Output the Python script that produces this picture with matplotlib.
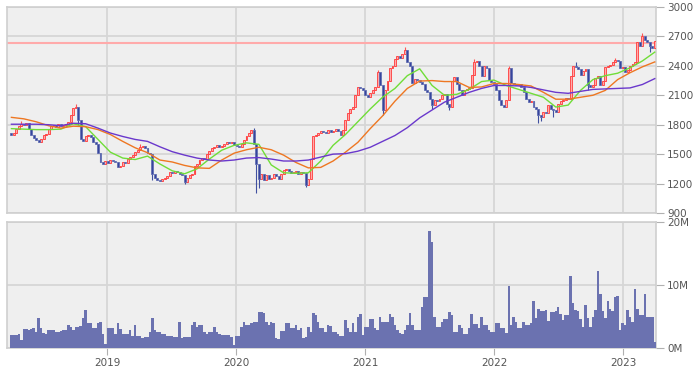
import numpy as np
import pandas as pd
import matplotlib
matplotlib.use('Agg')
import matplotlib.pyplot as plt
import matplotlib.dates as mdates

# weekly data, starting 2018-04-02
start = '2018-04-02'

closes = [
    1700, 1720, 1760, 1790, 1810, 1800, 1820, 1760, 1700, 1660,
    1640, 1620, 1650, 1700, 1710, 1760, 1790, 1800, 1780, 1810,
    1790, 1800, 1810, 1830, 1900, 1970, 1980, 1850, 1650, 1630,
    1680, 1700, 1670, 1620, 1600, 1510, 1420, 1400, 1430, 1410,
    1440, 1430, 1420, 1370, 1380, 1420, 1410, 1450, 1470, 1490,
    1520, 1540, 1570, 1580, 1560, 1510, 1500, 1300, 1260, 1240,
    1230, 1250, 1260, 1280, 1320, 1310, 1330, 1320, 1300, 1290,
    1220, 1260, 1290, 1300, 1380, 1400, 1440, 1460, 1450, 1500,
    1530, 1560, 1570, 1590, 1570, 1580, 1600, 1620, 1610, 1620,
    1590, 1580, 1570, 1600, 1640, 1680, 1720, 1750, 1600, 1400,
    1250, 1300, 1240, 1290, 1250, 1260, 1300, 1280, 1250, 1300,
    1340, 1350, 1330, 1310, 1320, 1330, 1300, 1320, 1310, 1190,
    1250, 1450, 1680, 1700, 1720, 1740, 1730, 1720, 1750, 1730,
    1740, 1760, 1740, 1700, 1750, 1850, 1920, 1960, 1980, 2100,
    2180, 2170, 2150, 2100, 2080, 2120, 2150, 2180, 2340, 2200,
    1950, 2150, 2250, 2380, 2400, 2470, 2500, 2480, 2520, 2560,
    2440, 2400, 2230, 2270, 2260, 2240, 2220, 2150, 2130, 2060,
    2000, 2050, 2040, 2060, 2100, 2110, 2010, 1980, 2250, 2290,
    2220, 2150, 2100, 2150, 2160, 2170, 2310, 2440, 2450, 2400,
    2300, 2400, 2380, 2260, 2240, 2220, 2150, 2050, 2000, 1980,
    2050, 2380, 2230, 2210, 2200, 2220, 2180, 2130, 2060, 2030,
    2040, 1980, 1960, 1900, 1880, 1930, 1920, 2000, 1960, 1950,
    1930, 2010, 2040, 2050, 2070, 2060, 2300, 2400, 2390, 2370,
    2310, 2350, 2370, 2200, 2180, 2200, 2280, 2300, 2200, 2250,
    2390, 2400, 2410, 2440, 2460, 2450, 2380, 2390, 2340, 2360,
    2400, 2420, 2440, 2640, 2600, 2700, 2660, 2640, 2600, 2580,
    2650,
]
first_open = 1720
# visible wick extremes (week index -> low / high)
wick_lows = {27: 1800, 57: 1240, 70: 1200, 99: 1100, 100: 1150, 119: 1160,
             150: 1900, 170: 1960, 177: 1950, 213: 1820, 214: 1840, 219: 1880,
             233: 2150, 258: 2540}
wick_highs = {4: 1840, 26: 2010, 52: 1600, 98: 1770, 148: 2360, 159: 2590,
              160: 2470, 187: 2470, 201: 2400, 228: 2440, 244: 2480, 255: 2740}

volumes = [  # millions
    2.0, 2.0, 2.1, 2.3, 1.2, 3.0, 3.0, 2.9, 3.0, 3.1,
    2.6, 4.7, 3.1, 2.4, 2.3, 2.9, 2.9, 2.8, 2.6, 2.5,
    2.7, 2.8, 2.9, 3.7, 3.3, 2.8, 3.4, 3.4, 3.5, 4.7,
    6.1, 3.9, 4.0, 3.1, 3.1, 4.0, 4.1, 2.3, 0.7, 3.2,
    3.2, 3.2, 2.3, 4.0, 3.0, 2.2, 2.2, 2.2, 2.9, 1.9,
    3.6, 1.9, 1.9, 1.6, 1.8, 1.8, 2.5, 4.7, 2.8, 2.6,
    2.6, 2.3, 2.3, 1.9, 1.9, 1.9, 1.7, 1.7, 4.1, 1.6,
    1.7, 1.7, 1.7, 3.6, 4.1, 3.3, 3.6, 3.6, 2.5, 2.3,
    2.5, 2.5, 3.4, 2.5, 2.2, 2.1, 2.1, 2.1, 2.0, 1.7,
    0.5, 1.9, 1.9, 3.4, 4.2, 3.6, 3.6, 3.9, 4.2, 4.2,
    5.7, 5.7, 5.5, 4.2, 3.7, 4.1, 4.0, 1.6, 1.5, 2.7,
    2.7, 4.0, 4.0, 3.1, 3.1, 3.7, 2.9, 3.1, 1.6, 1.8,
    3.4, 2.5, 5.6, 5.2, 4.1, 3.1, 3.1, 2.5, 3.7, 3.5,
    2.5, 2.5, 2.2, 1.9, 1.9, 4.4, 3.1, 2.5, 4.0, 2.5,
    4.9, 5.4, 2.0, 3.3, 3.3, 4.6, 4.6, 3.1, 2.8, 4.9,
    4.1, 4.2, 4.2, 5.4, 5.0, 3.6, 2.8, 2.4, 2.2, 2.8,
    3.6, 5.6, 3.6, 2.8, 2.8, 2.8, 6.5, 8.1, 8.1, 18.5,
    16.9, 4.9, 3.4, 3.4, 4.1, 4.6, 4.6, 5.7, 5.2, 2.5,
    2.5, 3.6, 3.1, 2.3, 2.3, 3.1, 5.4, 3.8, 3.8, 3.1,
    4.9, 3.6, 3.6, 2.8, 2.5, 2.5, 3.9, 4.0, 3.1, 3.1,
    2.4, 9.8, 3.6, 4.9, 4.1, 3.1, 3.1, 4.1, 3.7, 3.7,
    3.9, 7.4, 4.8, 6.2, 5.9, 5.9, 6.1, 4.3, 5.7, 5.7,
    5.8, 6.5, 5.4, 4.4, 5.3, 5.3, 11.4, 7.2, 6.1, 5.9,
    4.6, 3.3, 6.9, 4.8, 3.3, 4.9, 6.0, 12.2, 8.5, 5.8,
    4.8, 7.4, 6.2, 5.8, 8.1, 8.3, 2.8, 4.0, 3.6, 6.1,
    4.9, 4.2, 9.4, 6.2, 5.3, 5.3, 8.6, 4.9, 5.0, 5.0,
    1.0,
]

# moving averages, every 5 weeks
ma_weeks = list(range(0, 261, 5))
ma_short = [1760, 1755, 1750, 1750, 1755, 1810, 1780, 1650, 1520, 1460,
            1445, 1480, 1400, 1330, 1300, 1350, 1450, 1540, 1590, 1615,
            1600, 1390, 1310, 1305, 1310, 1430, 1590, 1700, 1830, 1960,
            2080, 2170, 2300, 2370, 2200, 2100, 2110, 2160, 2240, 2255,
            2200, 2160, 2120, 2080, 1980, 2000, 2150, 2260, 2300, 2325,
            2380, 2450, 2540]
ma_mid = [1875, 1860, 1830, 1790, 1765, 1785, 1780, 1750, 1700, 1630,
          1565, 1515, 1440, 1420, 1385, 1360, 1355, 1440, 1510, 1545,
          1570, 1545, 1490, 1415, 1360, 1365, 1430, 1520, 1620, 1760,
          1890, 2040, 2170, 2245, 2250, 2240, 2240, 2180, 2185, 2220,
          2220, 2210, 2195, 2130, 2060, 2060, 2080, 2100, 2150, 2260,
          2330, 2390, 2440]
ma_long = [1805, 1805, 1805, 1800, 1790, 1815, 1810, 1765, 1715, 1680,
           1650, 1630, 1575, 1525, 1490, 1460, 1440, 1430, 1440, 1460,
           1465, 1450, 1430, 1430, 1440, 1470, 1500, 1505, 1530, 1570,
           1630, 1690, 1770, 1870, 1950, 2030, 2080, 2130, 2170, 2200,
           2200, 2195, 2180, 2155, 2130, 2120, 2140, 2160, 2165, 2170,
           2175, 2210, 2270]

ref_price = 2630
price_ticks = [900, 1200, 1500, 1800, 2100, 2400, 2700, 3000]
vol_ticks = [0, 10, 20]
vol_labels = ['0M', '10M', '20M']
years = ['2019', '2020', '2021', '2022', '2023']

# ---- prepare
n = len(closes)
weeks = pd.date_range(start, periods=n, freq='7D')
left = mdates.date2num(weeks)
xc = left + 3.5
closes = np.array(closes, float)
opens = np.r_[first_open, closes[:-1]]
highs = np.maximum(opens, closes)
lows = np.minimum(opens, closes)
for k, v in wick_lows.items():
    lows[k] = min(lows[k], v)
for k, v in wick_highs.items():
    highs[k] = max(highs[k], v)
up = closes >= opens

fig = plt.figure(figsize=(6.97, 3.70), dpi=100)
ax = fig.add_axes([7 / 697, 1 - 213 / 370, 649 / 697, 206 / 370])
axv = fig.add_axes([7 / 697, 1 - 348 / 370, 649 / 697, 126 / 370], sharex=ax)

grid_c = '#d6d6d6'
for a in (ax, axv):
    a.set_facecolor('#efefef')
    for s in a.spines.values():
        s.set_color('#cfcfcf')
        s.set_linewidth(1.2)
    a.yaxis.tick_right()
    a.tick_params(axis='y', length=6, color='#b0b0b0', labelsize=7.5,
                  labelcolor='#555555', pad=2)
    a.grid(True, color=grid_c, linewidth=1.3)
    a.set_axisbelow(True)

# candles
body_h = np.where(np.abs(closes - opens) < 10, 10, closes - opens)
ax.vlines(xc[up], lows[up], highs[up], color='#ff5555', linewidth=0.8, zorder=3)
ax.vlines(xc[~up], lows[~up], highs[~up], color='#4050a0', linewidth=0.8, zorder=3)
ax.bar(xc[up], body_h[up], bottom=opens[up], width=5.5, color='#ffaaaa',
       edgecolor='#ff3a3a', linewidth=0.6, zorder=4)
ax.bar(xc[~up], body_h[~up], bottom=opens[~up], width=5.5, color='#36459c',
       edgecolor='#6470b4', linewidth=0.6, zorder=4)

# moving averages
mx = xc[ma_weeks]
ax.plot(mx, ma_short, color='#70dd38', linewidth=1.0, zorder=5)
ax.plot(mx, ma_mid, color='#ee7722', linewidth=1.0, zorder=5)
ax.plot(mx, ma_long, color='#6a38cc', linewidth=1.0, zorder=5)

ax.axhline(ref_price, color='#ffaaaa', linewidth=1.5, zorder=2)

ax.set_ylim(900, 3000)
ax.set_yticks(price_ticks)
ax.tick_params(axis='x', length=0, labelbottom=False)

# volume
axv.bar(left, volumes, width=7, align='edge', color='#6b72b0', linewidth=0, zorder=3)
axv.set_ylim(0, 20)
axv.set_yticks(vol_ticks)
axv.set_yticklabels(vol_labels)

year_pos = [mdates.date2num(pd.Timestamp(y + '-01-01')) for y in years]
axv.set_xticks(year_pos)
axv.set_xticklabels(years)
axv.tick_params(axis='x', length=5, color='#b0b0b0', labelsize=7.5,
                labelcolor='#555555', pad=2)
axv.set_xlim(mdates.date2num(pd.Timestamp('2018-03-24')),
             mdates.date2num(pd.Timestamp('2023-04-03')))

fig.savefig('out.png', dpi=100)
